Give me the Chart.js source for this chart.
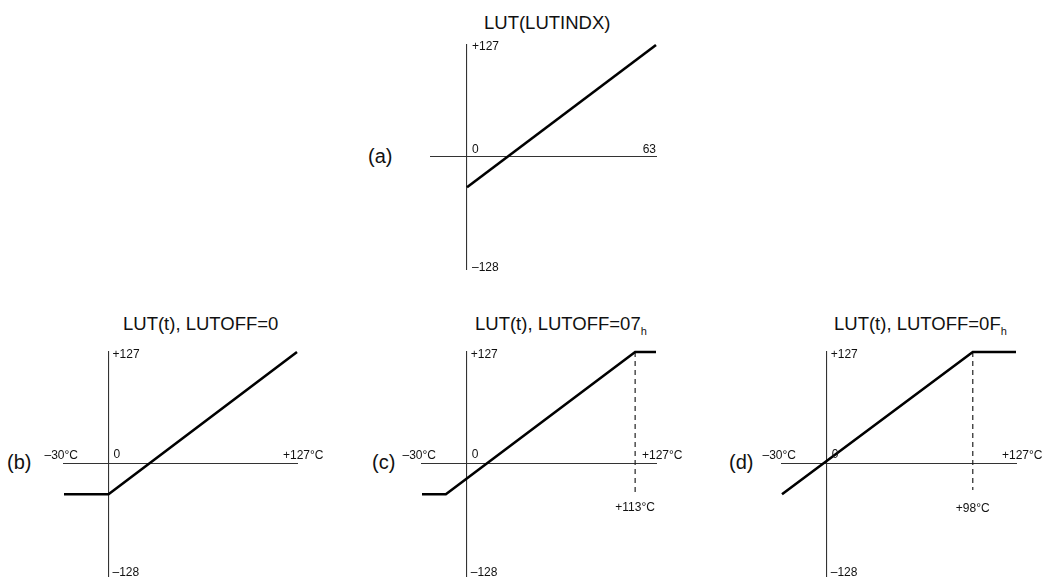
<!DOCTYPE html>
<html>
<head>
<meta charset="utf-8">
<script src="https://cdn.jsdelivr.net/npm/chart.js@4.4.1/dist/chart.umd.min.js"></script>
<style>
html,body{margin:0;padding:0;background:#fff;}
#page{position:relative;width:1042px;height:580px;overflow:hidden;background:#fff;
  font-family:"Liberation Sans",Arial,Helvetica,sans-serif;color:#111;}
.box{position:absolute;}
.title{position:absolute;font-size:18.5px;line-height:20px;white-space:nowrap;}
.title .sub{font-size:11px;position:relative;top:5px;}
.tag{position:absolute;font-size:20px;line-height:20px;white-space:nowrap;}
</style>
</head>
<body>
<div id="page">
  <div class="title" style="left:484px;top:13px">LUT(LUTINDX)</div>
  <div class="title" style="left:123px;top:314px">LUT(t), LUTOFF=0</div>
  <div class="title" style="left:475px;top:314px">LUT(t), LUTOFF=07<span class="sub">h</span></div>
  <div class="title" style="left:834px;top:314px">LUT(t), LUTOFF=0F<span class="sub">h</span></div>
  <div class="tag" style="left:368px;top:146px">(a)</div>
  <div class="tag" style="left:7px;top:452px">(b)</div>
  <div class="tag" style="left:372px;top:452px">(c)</div>
  <div class="tag" style="left:729px;top:452px">(d)</div>
</div>
<script>
// ---------- data ----------
const lutIndexRange = [-12, 63];          // LUTINDX axis extent
const lutValueRange = [-128, 127];        // LUT value axis
const tempRange = [-30, 127];             // temperature axis (°C)

const lutIndex = [0, 63];
const lutValues = [-35, 127];

const tempB = [-30, 0, 127];
const lutB = [-35, -35, 127];

const tempC = [-30, -14, 113, 127];
const lutC = [-35, -35, 127, 127];

const tempD = [-30, 98, 127];
const lutD = [-35, 127, 127];

const markerC = { t: [113, 113], v: [127, -36] };
const markerD = { t: [98, 98], v: [127, -30] };

const yTickLabels = ['+127', '\u2013128'];
const lutIndexLabels = ['0', '63'];
const tempLabels = ['\u201330\u00B0C', '0', '+127\u00B0C'];
const markerLabelC = '+113\u00B0C';
const markerLabelD = '+98\u00B0C';

// ---------- layout ----------
const PAD = { left: 50, right: 50, top: 20, bottom: 20 };
const areas = {
  a: { l: 431, r: 656, t: 45, b: 269 },
  b: { l: 64, r: 297, t: 352, b: 576 },
  c: { l: 422, r: 656, t: 352, b: 576 },
  d: { l: 782, r: 1016, t: 352, b: 576 }
};

const toPts = (xs, ys) => xs.map((x, i) => ({ x: x, y: ys[i] }));

const labelPlugin = {
  id: 'axisLabels',
  afterDraw(chart, args, opts) {
    const ctx = chart.ctx;
    const sx = chart.scales.x, sy = chart.scales.y;
    ctx.save();
    ctx.fillStyle = '#111';
    ctx.font = '12px "Liberation Sans", Arial, Helvetica, sans-serif';
    ctx.textBaseline = 'middle';
    (opts.items || []).forEach(it => {
      ctx.textAlign = it.align;
      ctx.fillText(it.text, sx.getPixelForValue(it.x) + (it.dx || 0), sy.getPixelForValue(it.y) + (it.dy || 0));
    });
    ctx.restore();
  }
};

function makeChart(key, xRange, datasets, items) {
  const a = areas[key];
  const div = document.createElement('div');
  div.className = 'box';
  const w = a.r - a.l + PAD.left + PAD.right;
  const h = a.b - a.t + PAD.top + PAD.bottom;
  div.style.left = (a.l - PAD.left) + 'px';
  div.style.top = (a.t - PAD.top) + 'px';
  div.style.width = w + 'px';
  div.style.height = h + 'px';
  const cv = document.createElement('canvas');
  cv.width = w; cv.height = h;
  cv.style.width = w + 'px'; cv.style.height = h + 'px';
  div.appendChild(cv);
  document.getElementById('page').appendChild(div);
  const axisStyle = (pos) => ({
    type: 'linear',
    position: pos,
    grid: { display: false, drawTicks: false },
    ticks: { display: false },
    border: { display: true, color: '#333', width: 1.1 }
  });
  return new Chart(cv, {
    type: 'line',
    data: { datasets: datasets },
    options: {
      responsive: false, animation: false, devicePixelRatio: 1,
      layout: { padding: PAD },
      plugins: { legend: { display: false }, tooltip: { enabled: false }, title: { display: false },
                 axisLabels: { items: items } },
      scales: {
        x: Object.assign(axisStyle({ y: 0 }), { min: xRange[0], max: xRange[1] }),
        y: Object.assign(axisStyle({ x: 0 }), { min: lutValueRange[0], max: lutValueRange[1] })
      }
    },
    plugins: [labelPlugin]
  });
}

const mainLine = (pts) => ({ data: pts, borderColor: '#000', borderWidth: 2.6, pointRadius: 0,
  tension: 0, fill: false, clip: false, borderJoinStyle: 'miter', borderCapStyle: 'butt' });
const dashLine = (pts) => ({ data: pts, borderColor: '#222', borderWidth: 1.2, borderDash: [5, 4],
  pointRadius: 0, tension: 0, fill: false, clip: false });

const yLabels = (dx, dyTop, dyBot) => [
  { text: yTickLabels[0], x: 0, y: lutValueRange[1], align: 'left', dx: dx, dy: dyTop },
  { text: yTickLabels[1], x: 0, y: lutValueRange[0], align: 'left', dx: dx, dy: dyBot }
];
const tLabels = () => [
  { text: tempLabels[0], x: tempRange[0], y: 0, align: 'right', dx: 14, dy: -8 },
  { text: tempLabels[1], x: 0, y: 0, align: 'left', dx: 5, dy: -9 },
  { text: tempLabels[2], x: tempRange[1], y: 0, align: 'left', dx: -14, dy: -8 }
];

makeChart('a', lutIndexRange, [mainLine(toPts(lutIndex, lutValues))],
  yLabels(5, 2, -1).concat([
    { text: lutIndexLabels[0], x: 0, y: 0, align: 'left', dx: 5, dy: -7 },
    { text: lutIndexLabels[1], x: lutIndex[1], y: 0, align: 'right', dx: 0, dy: -7 }
  ]));

makeChart('b', tempRange, [mainLine(toPts(tempB, lutB))], yLabels(4, 3, -3).concat(tLabels()));

makeChart('c', tempRange, [mainLine(toPts(tempC, lutC)), dashLine(toPts(markerC.t, markerC.v))],
  yLabels(4, 3, -3).concat(tLabels(), [
    { text: markerLabelC, x: markerC.t[0], y: 0, align: 'center', dx: 0, dy: 44 }
  ]));

makeChart('d', tempRange, [mainLine(toPts(tempD, lutD)), dashLine(toPts(markerD.t, markerD.v))],
  yLabels(4, 3, -3).concat(tLabels(), [
    { text: markerLabelD, x: markerD.t[0], y: 0, align: 'center', dx: 0, dy: 45 }
  ]));
</script>
</body>
</html>
